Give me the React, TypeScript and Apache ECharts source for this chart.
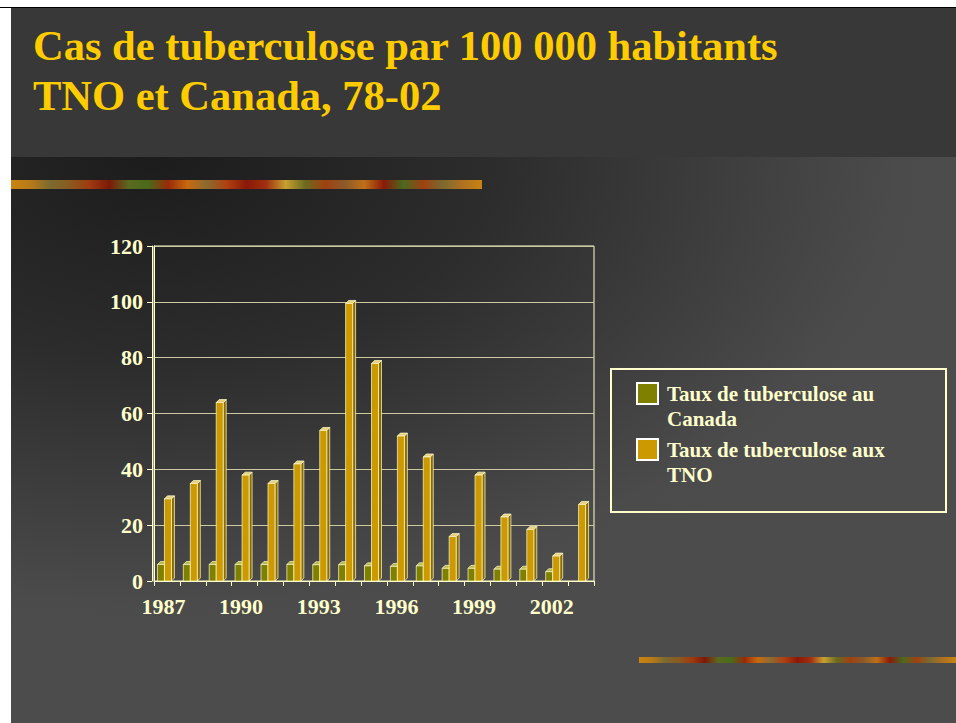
import React, { useEffect, useRef } from "react";
import * as echarts from "echarts";

const years = ["1987","1988","1989","1990","1991","1992","1993","1994","1995","1996","1997","1998","1999","2000","2001","2002","2003"];
const canada: (number | null)[] = [7, 7, 7, 7, 7, 7, 6.9, 6.9, 6.5, 6.3, 6.5, 5.6, 5.6, 5.3, 5.3, 4.4, null];
const tno: number[] = [30.5, 36, 65, 39, 36, 43, 55, 100.5, 79, 53, 45.5, 17, 39, 24, 19.5, 10, 28.5];
const yTicks = { min: 0, max: 120, interval: 20 };
const seriesNames = ["Taux de tuberculose au Canada", "Taux de tuberculose aux TNO"];
const legendLines = [["Taux de tuberculose au", "Canada"], ["Taux de tuberculose aux", "TNO"]];
const titleText = "Cas de tuberculose par 100 000 habitants\nTNO et Canada, 78-02";

const FONT = "'Liberation Serif', 'Times New Roman', serif";
const CREAM = "#ffffcc";

const stripStops = [
  "#c88410", "#b87a18", "#7a6a30", "#8a5a20", "#a03a10", "#7c1a08", "#5a6a20", "#4a6a1a",
  "#9a2a08", "#c86a10", "#8a6a30", "#b04010", "#8a1808", "#a03010", "#c8a030", "#6a6a20",
  "#a04010", "#8a5a28", "#c07018", "#8a1a08", "#4a6a20", "#a04010", "#7a6a30", "#b07020", "#c88410",
];
const stripGradient = () => ({
  type: "linear", x: 0, y: 0, x2: 1, y2: 0,
  colorStops: stripStops.map((c, i) => ({ offset: i / (stripStops.length - 1), color: c })),
});

function bar3d(offset: number, front: string, top: string, side: string) {
  return (params: any, api: any) => {
    const idx = api.value(0);
    const val = api.value(1);
    const p = api.coord([idx, val]);
    const p0 = api.coord([idx, 0]);
    const bw = 7, d = 3;
    const x = p[0] + offset;
    const yb = p[1];
    const y0 = p0[1];
    const yf = yb + d;
    return {
      type: "group",
      children: [
        { type: "polygon", shape: { points: [[x + bw, yf], [x + bw + d, yb], [x + bw + d, y0 - d], [x + bw, y0]] },
          style: { fill: side, stroke: CREAM, lineWidth: 0.7 } },
        { type: "polygon", shape: { points: [[x, yf], [x + d, yb], [x + bw + d, yb], [x + bw, yf]] },
          style: { fill: top, stroke: CREAM, lineWidth: 0.7 } },
        { type: "rect", shape: { x, y: yf, width: bw, height: Math.max(0, y0 - yf) },
          style: { fill: front, stroke: CREAM, lineWidth: 0.7 } },
      ],
    };
  };
}

export default function App() {
  const ref = useRef<HTMLDivElement>(null);
  useEffect(() => {
    if (!ref.current) return;
    const chart = echarts.init(ref.current, null, { renderer: "svg" });
    const canadaData = canada.map((v, i) => (v == null ? null : [i, v])).filter((d) => d !== null);
    const tnoData = tno.map((v, i) => [i, v]);
    const richT = { color: CREAM, fontFamily: FONT, fontWeight: "bold", fontSize: 21, lineHeight: 25, padding: [0, 0, 0, 4] };
    chart.setOption({
      animation: false,
      backgroundColor: "#ffffff",
      title: {
        text: titleText,
        left: 33, top: 20, padding: 0,
        textStyle: { color: "#ffcc00", fontFamily: FONT, fontWeight: "bold", fontSize: 42.5, lineHeight: 50 },
      },
      graphic: [
        { type: "rect", z: -20, shape: { x: 11, y: 8, width: 945, height: 149 }, style: { fill: "#383838" } },
        { type: "rect", z: -20, shape: { x: 11, y: 157, width: 945, height: 566 },
          style: { fill: { type: "radial", x: 0.15, y: 0.0, r: 0.85,
            colorStops: [
              { offset: 0, color: "#1c1c1c" },
              { offset: 0.42, color: "#2c2c2c" },
              { offset: 0.93, color: "#4b4b4b" },
              { offset: 1, color: "#4c4c4c" },
            ] } } },
        { type: "rect", z: -19, shape: { x: 0, y: 7, width: 956, height: 1 }, style: { fill: "#000000" } },
        { type: "rect", z: -18, shape: { x: 11, y: 180, width: 471, height: 9 }, style: { fill: stripGradient() as any } },
        { type: "rect", z: -18, shape: { x: 639, y: 657, width: 317, height: 6 }, style: { fill: stripGradient() as any } },
        { type: "rect", z: 1, shape: { x: 611, y: 369, width: 335, height: 143 }, style: { fill: "transparent", stroke: CREAM, lineWidth: 2 } },
      ],
      legend: {
        orient: "vertical",
        left: 636, top: 356, padding: 0,
        itemWidth: 21, itemHeight: 21, itemGap: -19,
        icon: "rect",
        itemStyle: { borderColor: "#ffffff", borderWidth: 2 },
        data: seriesNames,
        formatter: (name: string) => {
          const ls = legendLines[seriesNames.indexOf(name)];
          return "{t| }\n{t|" + ls[0] + "}\n{t|" + ls[1] + "}";
        },
        textStyle: { color: CREAM, fontFamily: FONT, fontWeight: "bold", fontSize: 21, lineHeight: 25, rich: { t: richT } },
      },
      grid: { left: 154, right: 362, top: 246, bottom: 142, show: true, borderColor: CREAM, borderWidth: 1, backgroundColor: "transparent" },
      xAxis: {
        type: "category", data: years, boundaryGap: true,
        axisLine: { lineStyle: { color: CREAM, width: 1 } },
        axisTick: { show: true, interval: 0, length: 5, lineStyle: { color: CREAM } },
        axisLabel: { interval: 2, color: CREAM, fontFamily: FONT, fontWeight: "bold", fontSize: 22, margin: 14, padding: [0, 7, 0, 0] },
      },
      yAxis: [
        {
          type: "value", ...yTicks,
          axisLine: { show: true, lineStyle: { color: CREAM, width: 1 } },
          axisTick: { show: false }, axisLabel: { show: false },
          splitLine: { show: true, lineStyle: { color: "#cdc9a0", width: 1 } },
        },
        {
          type: "value", ...yTicks, position: "left", offset: 2,
          axisLine: { show: true, lineStyle: { color: CREAM, width: 1 } },
          axisTick: { show: true, length: 5, lineStyle: { color: CREAM } },
          axisLabel: { color: CREAM, fontFamily: FONT, fontWeight: "bold", fontSize: 22, margin: 9 },
          splitLine: { show: false },
        },
      ],
      series: [
        {
          name: seriesNames[0], type: "custom", data: canadaData,
          encode: { x: 0, y: 1 }, itemStyle: { color: "#808000" },
          renderItem: bar3d(-9.5, "#808000", "#b8b850", "#5a5a00"),
        },
        {
          name: seriesNames[1], type: "custom", data: tnoData,
          encode: { x: 0, y: 1 }, itemStyle: { color: "#cc9900" },
          renderItem: bar3d(-2.5, "#cc9900", "#e8d080", "#8c6a00"),
        },
      ],
    });
    return () => chart.dispose();
  }, []);
  return <div ref={ref} style={{ position: "absolute", left: 0, top: 0, width: 956, height: 723 }} />;
}
